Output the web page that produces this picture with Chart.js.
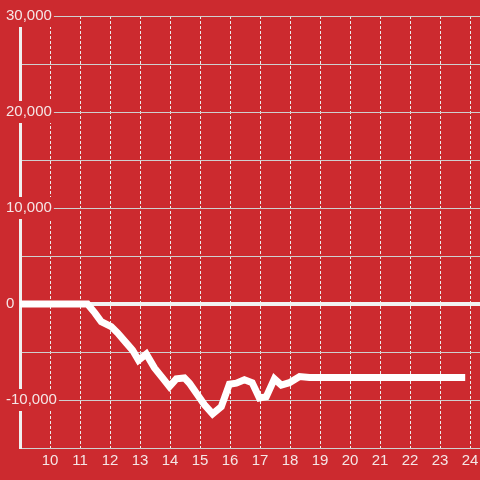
<!DOCTYPE html>
<html>
<head>
<meta charset="utf-8">
<script src="https://cdn.jsdelivr.net/npm/chart.js@4/dist/chart.umd.min.js"></script>
<style>
  html, body { margin: 0; padding: 0; background: #cc2a2f; }
  #wrap { width: 480px; height: 480px; }
</style>
</head>
<body>
<div id="wrap"><canvas id="c" width="480" height="480"></canvas></div>
<script>
// Hours of the day (x) and running value (y)
const hours = [9, 11.25, 11.5, 11.71, 12.04, 12.25, 12.54, 12.75, 12.95, 13.21, 13.48, 13.75, 13.98,
  14.21, 14.48, 14.65, 14.87, 15.15, 15.42, 15.71, 15.98, 16.21, 16.48, 16.74, 16.98, 17.21,
  17.48, 17.71, 17.98, 18.32, 18.65, 23.84];
const values = [0, 0, -950, -1850, -2350, -3000, -4050, -4800, -5850, -5200, -6650, -7700, -8600,
  -7800, -7700, -8250, -9250, -10500, -11450, -10700, -8350, -8250, -7900, -8200, -9800, -9650,
  -7800, -8450, -8200, -7550, -7650, -7650];
const xTicks = [10, 11, 12, 13, 14, 15, 16, 17, 18, 19, 20, 21, 22, 23, 24];
const yTicks = [-15000, -10000, -5000, 0, 5000, 10000, 15000, 20000, 25000, 30000];
const yLabelled = [-10000, 0, 10000, 20000, 30000];

const BG = '#cc2a2f';
const TXT = '#f5e6e6';
const FONT = { family: '"Liberation Sans", Arial, sans-serif', size: 15 };

new Chart(document.getElementById('c'), {
  type: 'line',
  data: {
    datasets: [{
      data: hours.map((h, i) => ({ x: h, y: values[i] })),
      borderColor: '#ffffff',
      borderWidth: 7,
      pointRadius: 0,
      tension: 0,
      fill: false
    }]
  },
  options: {
    responsive: false,
    animation: false,
    layout: { padding: { left: 6, top: 16, right: 0, bottom: 6 } },
    plugins: { legend: { display: false }, tooltip: { enabled: false } },
    scales: {
      x: {
        type: 'linear',
        min: 9,
        max: 24.3333,
        afterBuildTicks: s => { s.ticks = xTicks.map(v => ({ value: v })); },
        afterFit: s => { s.paddingLeft = 0; s.paddingRight = 0; },
        grid: { color: '#ececec', lineWidth: 1, drawTicks: false },
        border: { display: true, color: '#d0d0d0', width: 1, dash: [3, 2] },
        ticks: { color: TXT, font: FONT, padding: 4, maxRotation: 0, autoSkip: false }
      },
      y: {
        type: 'linear',
        min: -15000,
        max: 30000,
        afterBuildTicks: s => { s.ticks = yTicks.map(v => ({ value: v })); },
        afterFit: s => { s.width = 14; s.paddingTop = 0; s.paddingBottom = 0; },
        grid: {
          drawTicks: false,
          color: c => (c.tick && c.tick.value === 0) ? '#f2f2f2' : '#cfcfcf',
          lineWidth: c => (c.tick && c.tick.value === 0) ? 4 : 1
        },
        border: { display: true, color: '#f0f0f0', width: 3 },
        ticks: {
          color: TXT,
          font: FONT,
          mirror: true,
          crossAlign: 'near',
          padding: -14,
          showLabelBackdrop: true,
          backdropColor: BG,
          backdropPadding: 2,
          callback: v => yLabelled.includes(v) ? v.toLocaleString('en-US') : ''
        }
      }
    }
  }
});
</script>
</body>
</html>
